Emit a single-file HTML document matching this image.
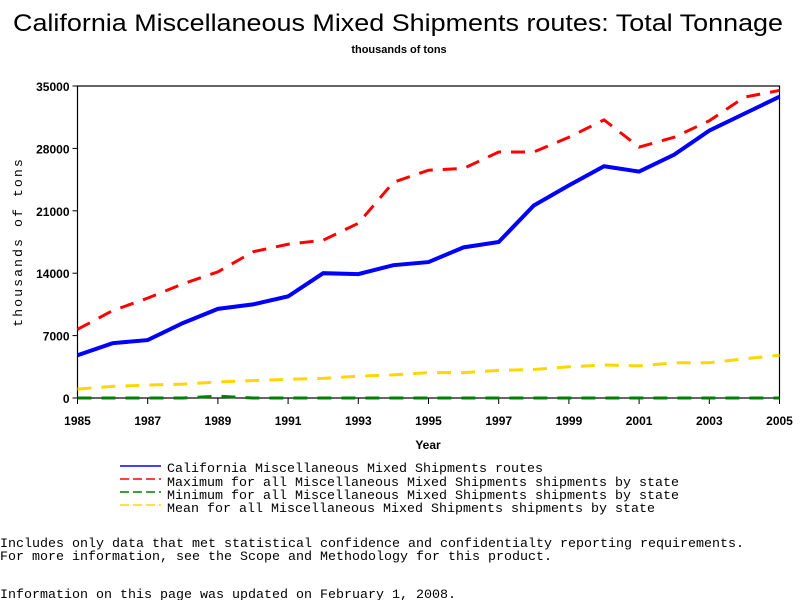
<!DOCTYPE html>
<html><head><meta charset="utf-8"><style>
html,body{margin:0;padding:0;background:#fff;width:800px;height:600px;overflow:hidden}
svg{display:block}
.m{font-family:"Liberation Mono",monospace;font-size:13.3px}
.t{font-family:"Liberation Sans",sans-serif;font-weight:bold;font-size:12px}
</style></head><body>
<svg id="chart" width="800" height="600" xmlns="http://www.w3.org/2000/svg">
<text x="398" y="31" text-anchor="middle" font-family="Liberation Sans, sans-serif" font-size="24" textLength="770" lengthAdjust="spacingAndGlyphs">California Miscellaneous Mixed Shipments routes: Total Tonnage</text>
<text x="399" y="53" text-anchor="middle" font-family="Liberation Sans, sans-serif" font-weight="bold" font-size="11">thousands of tons</text>
<g id="axes"></g>
<g id="series"></g>
<text x="428" y="449" text-anchor="middle" class="t">Year</text>
<text transform="translate(22,242) rotate(-90)" text-anchor="middle" class="m" font-size="12" letter-spacing="2">thousands of tons</text>
<g>
<line x1="120" y1="466" x2="161" y2="466" stroke="#0000ff" stroke-width="1.5"/>
<text x="167" y="472" class="m" textLength="376" lengthAdjust="spacingAndGlyphs">California Miscellaneous Mixed Shipments routes</text>
<line x1="120" y1="479" x2="161" y2="479" stroke="#ff0000" stroke-width="1.5" stroke-dasharray="9,4"/>
<text x="167" y="486" class="m" textLength="512" lengthAdjust="spacingAndGlyphs">Maximum for all Miscellaneous Mixed Shipments shipments by state</text>
<line x1="120" y1="492" x2="161" y2="492" stroke="#008000" stroke-width="1.5" stroke-dasharray="9,4"/>
<text x="167" y="499" class="m" textLength="512" lengthAdjust="spacingAndGlyphs">Minimum for all Miscellaneous Mixed Shipments shipments by state</text>
<line x1="120" y1="505" x2="161" y2="505" stroke="#ffd700" stroke-width="1.5" stroke-dasharray="9,4"/>
<text x="167" y="512" class="m" textLength="488" lengthAdjust="spacingAndGlyphs">Mean for all Miscellaneous Mixed Shipments shipments by state</text>
</g>
<text x="0" y="547" class="m" textLength="744" lengthAdjust="spacingAndGlyphs">Includes only data that met statistical confidence and confidentialty reporting requirements.</text>
<text x="0" y="560" class="m" textLength="552" lengthAdjust="spacingAndGlyphs">For more information, see the Scope and Methodology for this product.</text>
<text x="0" y="598" class="m" textLength="456" lengthAdjust="spacingAndGlyphs">Information on this page was updated on February 1, 2008.</text>
</svg>
<script>
const years = [1985,1986,1987,1988,1989,1990,1991,1992,1993,1994,1995,1996,1997,1998,1999,2000,2001,2002,2003,2004,2005];
const california = [4800,6150,6500,8400,10000,10500,11400,14000,13900,14900,15250,16900,17500,21600,23850,26000,25400,27300,30000,31900,33800];
const maximum = [7700,9800,11200,12800,14150,16400,17250,17700,19600,24200,25550,25750,27600,27600,29250,31200,28150,29250,31100,33750,34500];
const minimum = [0,0,0,0,200,0,0,0,0,0,0,0,0,0,0,0,0,0,0,0,0];
const mean = [1000,1300,1450,1550,1800,1950,2100,2200,2450,2600,2850,2850,3100,3200,3500,3700,3600,3950,3950,4400,4800];
const yTicks = [0,7000,14000,21000,28000,35000];
const xTickLabels = [1985,1987,1989,1991,1993,1995,1997,1999,2001,2003,2005];

const NS="http://www.w3.org/2000/svg";
const X0=77.5,X1=779.5,Y0=398,Y1=86;
const xs=v=>X0+(v-1985)/(2005-1985)*(X1-X0);
const ys=v=>Y0-(v/35000)*(Y0-Y1);
function mk(tag,attrs,parent){const e=document.createElementNS(NS,tag);for(const k in attrs)e.setAttribute(k,attrs[k]);parent.appendChild(e);return e;}
const ax=document.getElementById('axes');
const frame=mk('rect',{x:X0,y:Y1,width:X1-X0,height:Y0-Y1,fill:'none',stroke:'#000','stroke-width':1.2},ax);


yTicks.forEach(v=>{
  const l=mk('line',{x1:X0-5,x2:X0,y1:ys(v),y2:ys(v),stroke:'#000'},ax);
  
  
  const t=mk('text',{x:X0-8,y:ys(v)+5,'text-anchor':'end',class:'t'},ax);
  t.textContent=v;
  
  
});
xTickLabels.forEach(v=>{
  const l=mk('line',{x1:xs(v),x2:xs(v),y1:Y0,y2:Y0+6,stroke:'#000'},ax);
  
  
  const t=mk('text',{x:xs(v),y:Y0+27,'text-anchor':'middle',class:'t'},ax);
  t.textContent=v;
  
  
});
const sg=document.getElementById('series');
function line(vals,color,dash,w,name){
  const p=mk('polyline',{points:vals.map((v,i)=>xs(years[i])+','+ys(v)).join(' '),fill:'none',stroke:color,'stroke-width':w,'stroke-dasharray':dash},sg);
  
  
}
line(minimum,'#008000','14,10',3,'minimum-line');
line(mean,'#ffd700','14,10',3,'mean-line');
line(maximum,'#ff0000','14,10',3,'maximum-line');
line(california,'#0000ff','none',4,'california-line');
</script>
</body></html>
